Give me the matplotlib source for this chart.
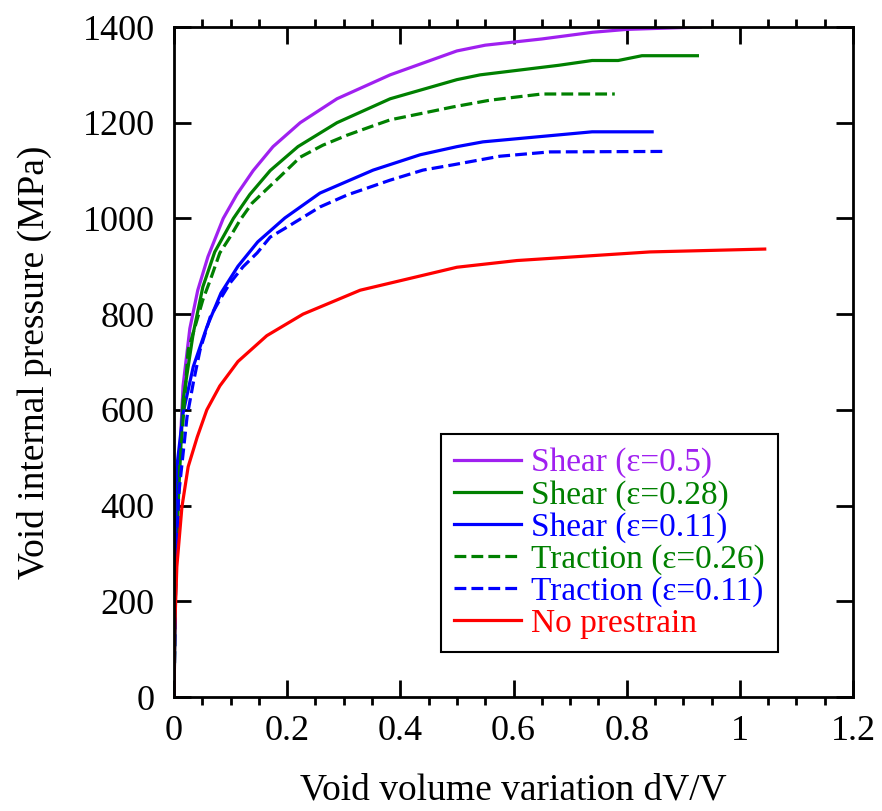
import matplotlib
matplotlib.use('Agg')
import matplotlib.pyplot as plt
from matplotlib.ticker import MultipleLocator, FormatStrFormatter

plt.rcParams['font.family'] = ['Liberation Serif', 'DejaVu Serif']

# Shear eps=0.5
purple_x = [0, 0.003, 0.008, 0.016, 0.028, 0.042, 0.060, 0.087, 0.111, 0.140, 0.175, 0.223, 0.288, 0.382, 0.50, 0.55, 0.65, 0.74, 0.80, 0.93]
purple_y = [0, 250, 450, 650, 770, 850, 920, 1000, 1050, 1100, 1150, 1200, 1250, 1300, 1350, 1362, 1375, 1389, 1395, 1400]

# Shear eps=0.28
green_x = [0, 0.003, 0.008, 0.016, 0.034, 0.051, 0.072, 0.105, 0.134, 0.170, 0.219, 0.288, 0.382, 0.50, 0.541, 0.68, 0.739, 0.785, 0.827, 0.925]
green_y = [0, 250, 420, 620, 760, 857, 930, 1000, 1050, 1100, 1150, 1200, 1250, 1290, 1300, 1320, 1330, 1330, 1340, 1340]

# Shear eps=0.11
blue_x = [0, 0.002, 0.005, 0.016, 0.034, 0.058, 0.083, 0.113, 0.148, 0.196, 0.258, 0.352, 0.435, 0.50, 0.546, 0.739, 0.845]
blue_y = [0, 250, 480, 593, 690, 773, 844, 900, 951, 1001, 1053, 1101, 1133, 1150, 1160, 1181, 1181]

# Traction eps=0.26
gdash_x = [0, 0.003, 0.01, 0.025, 0.037, 0.051, 0.064, 0.081, 0.099, 0.117, 0.138, 0.187, 0.223, 0.263, 0.306, 0.346, 0.382, 0.44, 0.493, 0.558, 0.65, 0.779]
gdash_y = [0, 250, 480, 725, 773, 830, 871, 928, 961, 997, 1032, 1087, 1128, 1153, 1174, 1191, 1206, 1220, 1233, 1247, 1260, 1260]

# Traction eps=0.11
bdash_x = [0, 0.003, 0.008, 0.023, 0.034, 0.046, 0.064, 0.081, 0.099, 0.122, 0.147, 0.170, 0.200, 0.258, 0.306, 0.382, 0.44, 0.493, 0.576, 0.664, 0.871]
bdash_y = [0, 250, 420, 585, 656, 725, 794, 830, 865, 899, 928, 961, 982, 1024, 1049, 1080, 1101, 1112, 1130, 1139, 1140]

# No prestrain
red_x = [0, 0.001, 0.005, 0.014, 0.025, 0.041, 0.058, 0.081, 0.113, 0.164, 0.228, 0.329, 0.50, 0.606, 0.841, 1.044]
red_y = [0, 134, 272, 397, 481, 543, 600, 650, 701, 755, 800, 850, 898, 912, 930, 936]

purple = '#A020F0'
green = '#008000'
blue = '#0000FF'
red = '#FF0000'

fig = plt.figure(figsize=(8.82, 8.11), dpi=100)
ax = fig.add_axes([174/882, 1 - 697/811, 679/882, 670/811])

lw = 2.3
ax.plot(purple_x, purple_y, color=purple, lw=lw, label='Shear (\u03b5=0.5)')
ax.plot(green_x, green_y, color=green, lw=lw, label='Shear (\u03b5=0.28)')
ax.plot(blue_x, blue_y, color=blue, lw=lw, label='Shear (\u03b5=0.11)')
ax.plot(gdash_x, gdash_y, color=green, lw=lw, ls='--', label='Traction (\u03b5=0.26)')
ax.plot(bdash_x, bdash_y, color=blue, lw=lw, ls='--', label='Traction (\u03b5=0.11)')
ax.plot(red_x, red_y, color=red, lw=lw, label='No prestrain')

ax.set_xlim(0, 1.2)
ax.set_ylim(0, 1400)
ax.xaxis.set_major_locator(MultipleLocator(0.2))
ax.xaxis.set_minor_locator(MultipleLocator(0.05))
ax.xaxis.set_major_formatter(FormatStrFormatter('%g'))
ax.yaxis.set_major_locator(MultipleLocator(200))

ax.tick_params(which='major', direction='in', length=12, width=2, top=True, right=True,
               labelsize=26, pad=14)
ax.tick_params(which='minor', direction='out', length=6, width=2, top=True, right=False, left=False)
ax.tick_params(axis='x', which='major', pad=13)
for s in ax.spines.values():
    s.set_linewidth(2)

ax.set_xlabel('Void volume variation dV/V', fontsize=27, labelpad=18)
ax.set_ylabel('Void internal pressure (MPa)', fontsize=27, labelpad=22)

leg = ax.legend(loc='lower right', bbox_to_anchor=(0.8895, 0.067), borderaxespad=0,
                fontsize=24, labelcolor='linecolor', fancybox=False, framealpha=1,
                edgecolor='black', handlelength=2.0, handletextpad=0.3,
                labelspacing=0.04, borderpad=0.4)
leg.get_frame().set_linewidth(1.5)

fig.savefig('out.png', dpi=100)
